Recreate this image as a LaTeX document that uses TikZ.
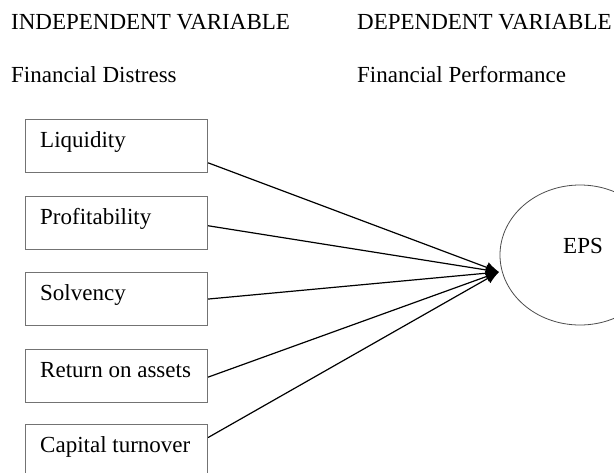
\documentclass[tikz,border=0pt]{standalone}
\usepackage{fontspec}
\setmainfont{Liberation Serif}
\usetikzlibrary{arrows.meta,calc,shapes.geometric}
\begin{document}
\begin{tikzpicture}[x=1pt,y=-1pt,
  varbox/.style={draw=black!55,line width=1.1pt,minimum width=182pt,minimum height=53pt,anchor=north west,inner sep=0pt},
  lbl/.style={anchor=base west,inner sep=0pt,font=\fontsize{23}{27}\selectfont},
  conn/.style={line width=1.2pt,-{Latex[length=13pt,width=11pt]}}]
\useasboundingbox (0,0) rectangle (614,472);
\clip (0,0) rectangle (614,472);
\node[lbl] (h1) at (11,29) {INDEPENDENT VARIABLE};
\node[lbl] (h2) at (357,29) {DEPENDENT VARIABLE};
\node[lbl] (s1) at (11,82) {Financial Distress};
\node[lbl] (s2) at (357,82) {Financial Performance};
\node[varbox] (b1) at (25,119) {};
\node[varbox] (b2) at (25,196) {};
\node[varbox] (b3) at (25,272) {};
\node[varbox] (b4) at (25,349) {};
\node[varbox] (b5) at (25,424) {};
\node[lbl] (t1) at (40,147) {Liquidity};
\node[lbl] (t2) at (40,224) {Profitability};
\node[lbl] (t3) at (40,300) {Solvency};
\node[lbl] (t4) at (40,377) {Return on assets};
\node[lbl] (t5) at (40,452) {Capital turnover};
\node[draw=black!70,line width=0.8pt,ellipse,minimum width=160pt,minimum height=140pt,inner sep=0pt] (eps) at (580,255) {};
\node[lbl] (epst) at (563,253) {EPS};
\coordinate (tip) at (499,272);
\draw[conn] ($(b1.north east)!0.81!(b1.south east)$) -- (tip);
\draw[conn] ($(b2.north east)!0.55!(b2.south east)$) -- (tip);
\draw[conn] ($(b3.north east)!0.5!(b3.south east)$) -- (tip);
\draw[conn] ($(b4.north east)!0.52!(b4.south east)$) -- (tip);
\draw[conn] ($(b5.north east)!0.25!(b5.south east)$) -- (tip);
\end{tikzpicture}
\end{document}
